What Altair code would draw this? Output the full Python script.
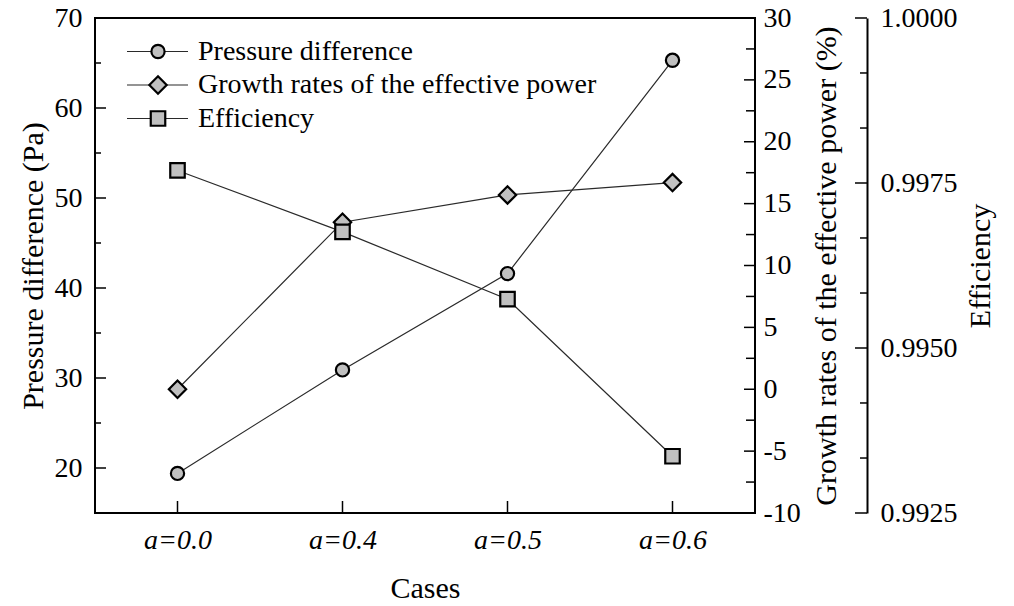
import altair as alt
import pandas as pd

# ---- data -------------------------------------------------------------
cases = ["a=0.0", "a=0.4", "a=0.5", "a=0.6"]
pressure_pa = [19.4, 30.9, 41.6, 65.3]
growth_pct = [0.0, 13.5, 15.7, 16.7]
efficiency = [0.99769, 0.99676, 0.99574, 0.99336]

series_names = ["Pressure difference", "Growth rates of the effective power", "Efficiency"]
series_shapes = ["circle", "diamond", "square"]

pressure_major = [20, 30, 40, 50, 60, 70]
pressure_minor = [25, 35, 45, 55, 65]
growth_major = [-10, -5, 0, 5, 10, 15, 20, 25, 30]
growth_minor = [-7.5, -2.5, 2.5, 7.5, 12.5, 17.5, 22.5, 27.5]
eff_major = [0.9925, 0.9950, 0.9975, 1.0000]
eff_minor = [0.993333, 0.994167, 0.995833, 0.996667, 0.998333, 0.999167]

# ---- layout / style ---------------------------------------------------
W, H = 660, 495
EFF_OFFSET = 112
FONT = "Liberation Serif"
LINE_COLOR = "#2a2a2a"
MARK_FILL = "#c0c0c0"
SIZES = {"circle": 175, "diamond": 300, "square": 210}

TEXT_STYLE = dict(
    labelFont=FONT, titleFont=FONT, labelFontSize=28, titleFontSize=30,
    labelColor="black", titleColor="black", titleFontWeight="normal",
)

df = pd.DataFrame({
    "case": cases,
    "pressure": pressure_pa,
    "growth": growth_pct,
    "efficiency": efficiency,
})

x_enc = alt.X(
    "case:N",
    sort=cases,
    scale=alt.Scale(type="point", padding=0.5),
    axis=alt.Axis(
        title="Cases",
        labelFontStyle="italic",
        labelAngle=0,
        labelPadding=13,
        ticks=False,
        domain=False,
        titleY=75,
        titleBaseline="middle",
        **TEXT_STYLE,
    ),
)


def marker(shape):
    return dict(
        shape=shape, size=SIZES[shape], filled=False, color="black",
        fill=MARK_FILL, fillOpacity=1, strokeWidth=2.2, opacity=1,
    )


def series_layers(field, shape, domain, axis, major, minor, tick_major, tick_minor):
    """Line, markers and inward tick marks for one series, all on the same y domain."""
    def y(ax=None):
        return alt.Y(f"{field}:Q", scale=alt.Scale(domain=domain, zero=False, nice=False), axis=ax)

    line = alt.Chart(df).mark_line(color=LINE_COLOR, strokeWidth=1.2).encode(x=x_enc, y=y(axis))
    pts = alt.Chart(df).mark_point(**marker(shape)).encode(x=x_enc, y=y())
    major_ticks = alt.Chart(pd.DataFrame({field: major})).mark_rule(
        color="black", strokeWidth=1.5
    ).encode(y=y(), x=alt.value(tick_major[0]), x2=alt.value(tick_major[1]))
    minor_ticks = alt.Chart(pd.DataFrame({field: minor})).mark_rule(
        color="black", strokeWidth=1.5
    ).encode(y=y(), x=alt.value(tick_minor[0]), x2=alt.value(tick_minor[1]))
    return [line, pts, major_ticks, minor_ticks]


pressure_axis = alt.Axis(
    orient="left", title="Pressure difference (Pa)", values=pressure_major,
    ticks=False, domain=False, labelPadding=13, labelFlush=False,
    labelOverlap=False, titleAngle=270, titleBaseline="middle",
    titleX=-62, titleY=H / 2, **TEXT_STYLE,
)
growth_axis = alt.Axis(
    orient="right", title="Growth rates of the effective power (%)",
    values=growth_major, ticks=False, domain=False, labelPadding=8,
    labelFlush=False, labelOverlap=False,
    labelExpr="datum.value < 0 ? '-' + format(-datum.value, 'd') : format(datum.value, 'd')",
    titleAngle=270, titleBaseline="middle", titleX=71, titleY=H / 2,
    **TEXT_STYLE,
)
eff_axis = alt.Axis(
    orient="right", offset=EFF_OFFSET, title="Efficiency", values=eff_major,
    format=".4f", ticks=False, domain=True, domainColor="black",
    domainWidth=2, labelPadding=13, labelFlush=False, labelOverlap=False,
    titleAngle=270, titleBaseline="middle", titleX=113, titleY=H / 2,
    **TEXT_STYLE,
)

layers = []
layers += series_layers(
    "pressure", "circle", [15, 70], pressure_axis,
    pressure_major, pressure_minor, (0, 11), (0, 6),
)
layers += series_layers(
    "growth", "diamond", [-10, 30], growth_axis,
    growth_major, growth_minor, (W - 11, W), (W - 9, W),
)
layers += series_layers(
    "efficiency", "square", [0.9925, 1.0], eff_axis,
    eff_major, eff_minor,
    (W + EFF_OFFSET - 12, W + EFF_OFFSET), (W + EFF_OFFSET - 7, W + EFF_OFFSET),
)

# inward ticks on the category axis
layers.append(
    alt.Chart(df).mark_rule(color="black", strokeWidth=1.5).encode(
        x=x_enc, y=alt.value(H), y2=alt.value(H - 12)
    )
)

# legend in the upper-left corner of the plot
for i, (name, shape) in enumerate(zip(series_names, series_shapes)):
    row_y = 33.5 + i * 33.5
    entry = pd.DataFrame({"label": [name]})
    layers.append(
        alt.Chart(entry).mark_rule(color=LINE_COLOR, strokeWidth=1.2).encode(
            x=alt.value(32), x2=alt.value(93), y=alt.value(row_y)
        )
    )
    layers.append(
        alt.Chart(entry).mark_point(**marker(shape)).encode(
            x=alt.value(63), y=alt.value(row_y)
        )
    )
    layers.append(
        alt.Chart(entry).mark_text(
            align="left", baseline="middle", font=FONT, fontSize=28, color="black"
        ).encode(x=alt.value(103), y=alt.value(row_y), text="label:N")
    )

chart = (
    alt.layer(*layers)
    .resolve_scale(y="independent")
    .properties(
        width=W,
        height=H,
        autosize=alt.AutoSizeParams(type="none"),
        padding={"left": 95, "top": 18, "right": 259, "bottom": 93},
        background="white",
    )
    .configure_axis(grid=False, **TEXT_STYLE)
    .configure_text(font=FONT)
    .configure_view(stroke="black", strokeWidth=2)
)

chart.save("out.html", embed_options={"renderer": "svg", "actions": False})
